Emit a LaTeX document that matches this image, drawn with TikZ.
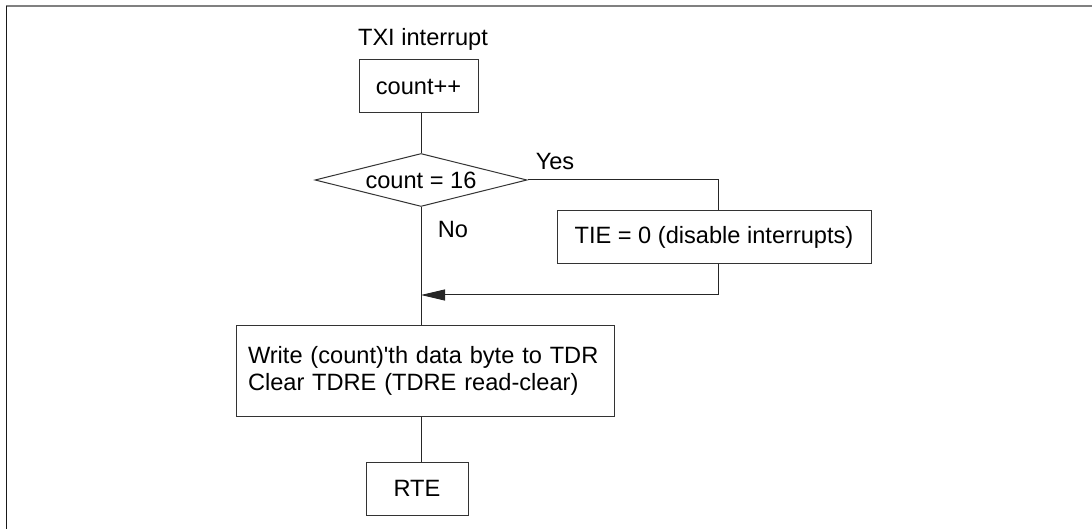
\documentclass[tikz,border=0pt]{standalone}
\usepackage{fontspec}
\setmainfont{Liberation Sans}
\usetikzlibrary{shapes.geometric,arrows.meta}
\begin{document}
\begin{tikzpicture}[x=1pt,y=-1pt,
  every node/.style={font=\fontsize{23.6}{27}\selectfont},
  stepbox/.style={draw=black!80,line width=1pt,rectangle,inner sep=0pt},
  testbox/.style={draw=black!80,line width=1pt,diamond,inner sep=0pt,shape aspect=4},
  flow/.style={draw=black!85,line width=1pt}]
\useasboundingbox(0,0) rectangle (1092,529);
\draw[gray,line width=2pt](6,6.5) -- (1092,6.5);
\draw[black!90,line width=1.5pt](6.5,6) -- (6.5,529);
\node (txi) at (423,39){TXI interrupt};
\node[stepbox,minimum width=119pt,minimum height=53pt] (count) at (418.5,86.5){count++};
\node[testbox,minimum width=212pt,minimum height=53pt] (check) at (421,180){count = 16};
\node[stepbox,minimum width=314pt,minimum height=53pt] (tie) at (714,237.5){TIE = 0 (disable interrupts)};
\node[stepbox,minimum height=91pt,text width=354pt,inner xsep=12pt,align=left] (write) at (425,370.5){Write (count)\textquotesingle th data byte to TDR\\Clear TDRE (TDRE read-clear)};
\node[stepbox,minimum width=102pt,minimum height=53pt] (rte) at (417,488.5){RTE};
\node (yes) at (555,161){Yes};
\node (no) at (453,229){No};
\coordinate (merge) at (421,295);
\path[flow](check.north |- count.south) -- (check.north);
\path[flow](check.east) -| ([xshift=4pt]tie.north);
\path[flow,-{Triangle[length=24pt,width=11pt]}]([xshift=4pt]tie.south) |- (merge);
\path[flow](check.south) -- (check.south |- write.north);
\path[flow](check.south |- write.south) -- (check.south |- rte.north);
\end{tikzpicture}
\end{document}
